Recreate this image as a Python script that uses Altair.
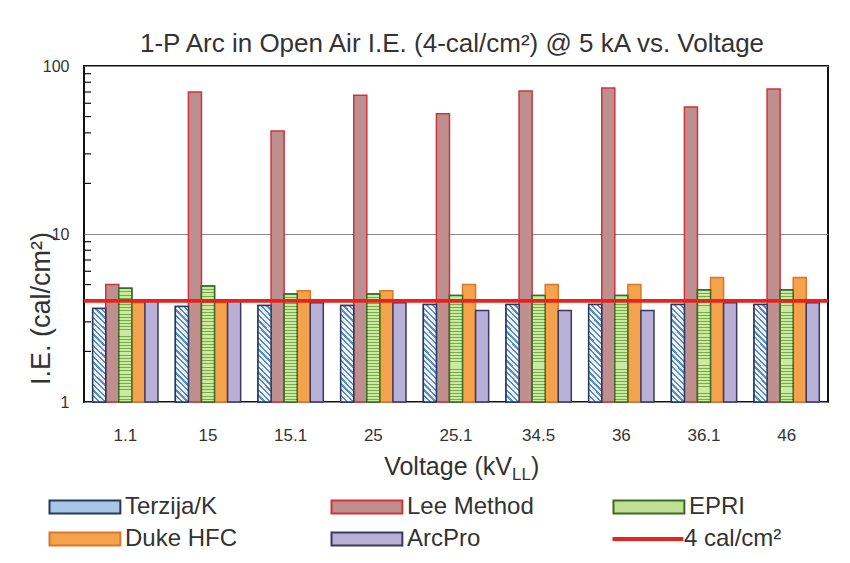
import altair as alt
import pandas as pd

# ---------------- data ----------------
categories = ["1.1", "15", "15.1", "25", "25.1", "34.5", "36", "36.1", "46"]
series = ["Terzija/K", "Lee Method", "EPRI", "Duke HFC", "ArcPro"]
terzija = [3.6, 3.7, 3.75, 3.75, 3.8, 3.8, 3.8, 3.8, 3.8]
lee = [5.0, 70, 41, 67, 52, 71, 74, 57, 73]
epri = [4.75, 4.9, 4.4, 4.4, 4.3, 4.3, 4.3, 4.65, 4.65]
duke = [3.9, 3.9, 4.6, 4.6, 5.0, 5.0, 5.0, 5.5, 5.5]
arcpro = [4.0, 4.0, 3.9, 3.9, 3.5, 3.5, 3.5, 3.9, 3.9]
threshold_label = ["4 cal/cm²"]
threshold_value = [4]
y_ticks = [1, 10, 100]
minor_ticks = [2, 3, 4, 5, 6, 7, 8, 9, 20, 30, 40, 50, 60, 70, 80, 90]
title_text = "1-P Arc in Open Air I.E.  (4-cal/cm²) @ 5 kA vs. Voltage"
x_title_main = ["Voltage (kV"]
x_title_sub = ["LL"]
x_title_end = [")"]
y_title = "I.E. (cal/cm²)"

rows = []
for s, vals in zip(series, [terzija, lee, epri, duke, arcpro]):
    for c, v in zip(categories, vals):
        rows.append({"voltage": c, "series": s, "ie": v})
df = pd.DataFrame(rows)

# ---------------- styles ----------------
FONT = "Liberation Sans"
TXT = "#333333"
fill_colors = ["#a9c6e4", "#bf8e8e", "#bfe095", "#f5a24c", "#b8b0d6"]
stroke_colors = ["#27395e", "#d0343a", "#3d6b25", "#d9772a", "#3b3863"]
RED = "#e8231e"


def stripes(c_on, c_off, n, frac, x1, y1, x2, y2):
    stops = []
    for k in range(n):
        a = k / n
        b = (k + frac) / n
        e = (k + 1) / n
        stops += [alt.GradientStop(color=c_on, offset=a),
                  alt.GradientStop(color=c_on, offset=b),
                  alt.GradientStop(color=c_off, offset=b),
                  alt.GradientStop(color=c_off, offset=e)]
    return alt.LinearGradient(gradient="linear", stops=stops, x1=x1, y1=y1, x2=x2, y2=y2)


terzija_grad = stripes("#5a8cc6", "#eef4fb", 19, 0.4, 0, 1, 0.153, -0.116)
epri_grad = stripes("#79a84d", "#c8eba0", 36, 0.3, 0, 0, 0, 1)

x_enc = alt.X("voltage:N",
              scale=alt.Scale(domain=categories, paddingInner=0.21, paddingOuter=0.105),
              axis=alt.Axis(title=None, labelAngle=0, labelFontSize=17, labelFont=FONT,
                            labelColor=TXT, labelPadding=25, ticks=False, domain=False))
xoff = alt.XOffset("series:N", scale=alt.Scale(domain=series, paddingInner=0, paddingOuter=0))
y_scale = alt.Scale(type="log", domain=[1, 100])
y_enc = alt.Y("ie:Q", scale=y_scale,
              axis=alt.Axis(values=y_ticks, format="d", title=y_title, titleFontSize=27,
                            titleFont=FONT, titleColor=TXT, titleFontWeight="normal",
                            titleX=-43, titleY=242, titleAngle=270, titleAlign="center",
                            titleBaseline="middle",
                            labelFontSize=16, labelFont=FONT, labelColor=TXT,
                            labelPadding=15, ticks=False, domain=False,
                            grid=True, gridColor="#8a8a8a", gridWidth=1.2))

SYM_RECT = "M-1,-1H9.9V1H-1Z"
legend_kw = dict(
    title=None, orient="none", legendX=-40, legendY=429, direction="horizontal",
    columns=3, gridAlign="all", columnPadding=74, rowPadding=8,
    symbolType=SYM_RECT, symbolSize=169, symbolStrokeWidth=2,
    labelFontSize=24, labelFont=FONT, labelColor=TXT, labelOffset=57, labelLimit=300,
)

bars = alt.Chart(df).mark_bar(strokeWidth=1.5).encode(
    x=x_enc, xOffset=xoff, y=y_enc, y2=alt.datum(1),
    fill=alt.Fill("series:N", scale=alt.Scale(domain=series, range=fill_colors),
                  legend=alt.Legend(**legend_kw)),
    stroke=alt.Stroke("series:N", scale=alt.Scale(domain=series, range=stroke_colors),
                      legend=alt.Legend(**legend_kw)),
)

terz_overlay = alt.Chart(df).transform_filter(alt.datum.series == "Terzija/K").mark_bar(
    fill=terzija_grad, stroke="#27395e", strokeWidth=1.5).encode(
    x=x_enc, xOffset=xoff, y=y_enc, y2=alt.datum(1))

epri_overlay = alt.Chart(df).transform_filter(alt.datum.series == "EPRI").mark_bar(
    fill=epri_grad, stroke="#3d6b25", strokeWidth=1.5).encode(
    x=x_enc, xOffset=xoff, y=y_enc, y2=alt.datum(1))

red_line = alt.Chart(pd.DataFrame({"v": threshold_value, "lab": threshold_label})).mark_rule(
    strokeWidth=3.8).encode(
    y=alt.Y("v:Q", scale=y_scale),
    color=alt.Color("lab:N", scale=alt.Scale(domain=threshold_label, range=[RED]),
                    legend=alt.Legend(title=None, orient="none", legendX=523, legendY=461,
                                      symbolType="M-1,0H9.9", symbolSize=169, symbolStrokeWidth=4,
                                      labelFontSize=24, labelFont=FONT, labelColor=TXT,
                                      labelOffset=53, labelLimit=300)),
)

minor = alt.Chart(pd.DataFrame({"t": minor_ticks})).mark_rule(
    color="#111111", strokeWidth=1.2).encode(y=alt.Y("t:Q", scale=y_scale), x=alt.value(0), x2=alt.value(7))

xt_main = alt.Chart(pd.DataFrame({"t": x_title_main})).mark_text(
    align="right", baseline="alphabetic", fontSize=25, font=FONT, color=TXT).encode(
    text="t:N", x=alt.value(428), y=alt.value(409))
xt_sub = alt.Chart(pd.DataFrame({"t": x_title_sub})).mark_text(
    align="left", baseline="alphabetic", fontSize=17, font=FONT, color=TXT).encode(
    text="t:N", x=alt.value(428), y=alt.value(414))
xt_end = alt.Chart(pd.DataFrame({"t": x_title_end})).mark_text(
    align="left", baseline="alphabetic", fontSize=25, font=FONT, color=TXT).encode(
    text="t:N", x=alt.value(447), y=alt.value(409))

chart = alt.layer(bars, terz_overlay, epri_overlay, minor, red_line, xt_main, xt_sub, xt_end).properties(
    width=744, height=336,
    title=alt.Title(title_text, fontSize=26, font=FONT, color=TXT, fontWeight="normal",
                    anchor="middle", offset=1, dx=-4),
    autosize=alt.AutoSizeParams(type="none"),
    padding={"left": 76, "top": 58, "right": 14, "bottom": 153},
).configure(background="white", view=alt.ViewConfig(stroke="#111111", strokeWidth=2))

chart.save("out.html", embed_options={"renderer": "svg", "actions": False})
